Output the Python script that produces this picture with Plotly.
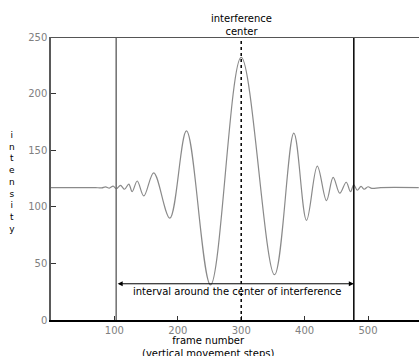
import plotly.graph_objects as go

# Extrema / key points of the intensity trace
frame = [0, 60, 70, 80, 86, 92, 98, 103, 109.6, 116, 122.7, 128, 136, 146.4, 162, 187.4,
         213.7, 251.6, 300, 352.5, 383, 403, 420, 434.5, 445, 455.5, 465.6, 472.4,
         477.5, 483, 489, 494, 500, 506, 520, 580]
intensity = [117, 117, 117, 116.7, 117.6, 116.5, 118.3, 116, 119, 115.5, 120, 113.4, 122.8,
             109.6, 130, 90, 167, 31, 232, 40, 165, 88, 136, 105.5, 126, 112, 121.7, 113.4,
             119.5, 114.6, 118, 115.5, 117.7, 116.3, 117, 117]

interval_start = 102.8
interval_end = 477.6
center = 300
arrow_level = 32

x_ticks = [100, 200, 300, 400, 500]
y_ticks = [0, 50, 100, 150, 200, 250]

FONT = "DejaVu Sans"

fig = go.Figure()
fig.add_trace(go.Scatter(
    x=frame, y=intensity, mode="lines",
    line=dict(color="#8a8a8a", width=1.2, shape="spline", smoothing=1.0),
    hoverinfo="skip", showlegend=False,
))

shapes = [
    dict(type="line", xref="x", yref="y", x0=interval_start, x1=interval_start, y0=0, y1=250,
         line=dict(color="#6e6e6e", width=1.5)),
    dict(type="line", xref="x", yref="y", x0=interval_end, x1=interval_end, y0=0, y1=250,
         line=dict(color="black", width=1.5)),
    dict(type="line", xref="x", yref="y", x0=center, x1=center, y0=0, y1=250,
         line=dict(color="black", width=1.5, dash="dot")),
    dict(type="line", xref="paper", yref="y", x0=0, x1=1, y0=250, y1=250,
         line=dict(color="#555555", width=2)),
]

annotations = [
    dict(x=interval_end, y=arrow_level, ax=interval_start, ay=arrow_level,
         xref="x", yref="y", axref="x", ayref="y", text="", showarrow=True,
         arrowhead=2, arrowside="end+start", arrowsize=1, arrowwidth=1, arrowcolor="black"),
    dict(x=293, y=25, xref="x", yref="y", text="interval around the center of interference",
         showarrow=False, font=dict(family=FONT, size=10, color="black")),
    dict(x=center, y=1, xref="x", yref="paper", yanchor="bottom", yshift=-2,
         text="interference<br>center", showarrow=False,
         font=dict(family=FONT, size=10, color="black")),
    dict(x=248, y=0, xref="x", yref="paper", yanchor="top", yshift=-13,
         text="frame number<br>(vertical movement steps)", showarrow=False,
         font=dict(family=FONT, size=10, color="black")),
    dict(x=(12 - 51) / 368, y=122, xref="paper", yref="y", xanchor="center", yanchor="middle",
         text="<br>".join(list("intensity")), showarrow=False,
         font=dict(family=FONT, size=9, color="black")),
]

fig.update_layout(
    width=419, height=356,
    margin=dict(l=51, r=0, t=37, b=36),
    paper_bgcolor="white", plot_bgcolor="white",
    shapes=shapes, annotations=annotations,
    font=dict(family=FONT),
    xaxis=dict(range=[0, 580.4], tickvals=x_ticks, ticks="inside", ticklen=4,
               tickcolor="#333333", tickwidth=1.2,
               showline=True, linecolor="black", linewidth=1.5, showgrid=False,
               zeroline=False, tickfont=dict(family=FONT, size=10, color="#808080")),
    yaxis=dict(range=[0, 250], tickvals=y_ticks, ticks="inside", ticklen=5,
               tickcolor="#333333", tickwidth=1.2,
               showline=True, linecolor="#5a5a5a", linewidth=1.5, showgrid=False,
               zeroline=False, tickfont=dict(family=FONT, size=10, color="#808080")),
)

fig.write_html(
    "out.html",
    config={"displayModeBar": False},
    post_script="document.body.style.margin='0';document.body.style.overflow='hidden';",
)
